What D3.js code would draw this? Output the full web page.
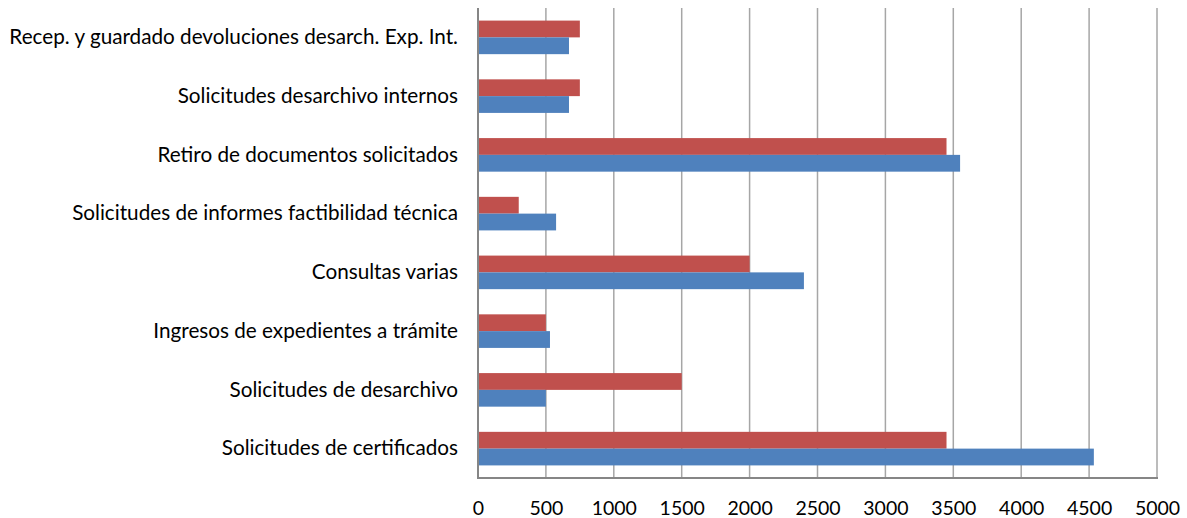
<!DOCTYPE html>
<html>
<head>
<meta charset="utf-8">
<script src="https://cdn.jsdelivr.net/npm/d3@7/dist/d3.min.js"></script>
<style>
  html, body { margin: 0; padding: 0; background: #fff; }
  svg text { font-family: Lato, "Open Sans", sans-serif; fill: #000; }
</style>
</head>
<body>
<svg id="chart" width="1187" height="518"></svg>
<script>
// Categories listed from top to bottom
const categories = [
  "Recep. y guardado devoluciones desarch. Exp. Int.",
  "Solicitudes desarchivo internos",
  "Retiro de documentos solicitados",
  "Solicitudes de informes factibilidad técnica",
  "Consultas varias",
  "Ingresos de expedientes a trámite",
  "Solicitudes de desarchivo",
  "Solicitudes de certificados"
];
// Upper bar of each pair (red) and lower bar (blue)
const seriesRed  = [750, 750, 3450, 300, 2000, 500, 1500, 3450];
const seriesBlue = [670, 670, 3550, 575, 2400, 530, 500, 4535];
const xTicks = [0, 500, 1000, 1500, 2000, 2500, 3000, 3500, 4000, 4500, 5000];

const svg = d3.select("#chart");
const margin = { left: 478, top: 8 };

const x = d3.scaleLinear().domain([0, 5000]).range([margin.left, 1157]);
const y = d3.scaleBand().domain(categories).range([margin.top, 478]).paddingInner(0).paddingOuter(0);
// Two bars per band with a gap of 150% of a bar width
const barH = y.bandwidth() / 3.5;
const inner = d3.scaleBand().domain(["red", "blue"]).range([0, barH * 2]);
const groupOffset = (y.bandwidth() - barH * 2) / 2;

// Vertical gridlines
svg.append("g").selectAll("line")
  .data(xTicks.slice(1))
  .join("line")
  .attr("x1", d => x(d)).attr("x2", d => x(d))
  .attr("y1", y.range()[0]).attr("y2", y.range()[1])
  .attr("stroke", "#a6a6a6").attr("stroke-width", 1.5);

// Bars
const groups = svg.append("g").selectAll("g")
  .data(categories.map((c, i) => ({ c, red: seriesRed[i], blue: seriesBlue[i] })))
  .join("g")
  .attr("transform", d => `translate(0,${y(d.c) + groupOffset})`);

groups.append("rect")
  .attr("x", x(0)).attr("y", inner("red"))
  .attr("width", d => x(d.red) - x(0)).attr("height", inner.bandwidth())
  .attr("fill", "#c0504d");

groups.append("rect")
  .attr("x", x(0)).attr("y", inner("blue"))
  .attr("width", d => x(d.blue) - x(0)).attr("height", inner.bandwidth())
  .attr("fill", "#4f81bd");

// Axis lines
svg.append("line")
  .attr("x1", x(0)).attr("x2", x(0))
  .attr("y1", y.range()[0]).attr("y2", y.range()[1])
  .attr("stroke", "#868686").attr("stroke-width", 2);
svg.append("line")
  .attr("x1", x(0) - 1).attr("x2", x(5000) + 1)
  .attr("y1", y.range()[1]).attr("y2", y.range()[1])
  .attr("stroke", "#868686").attr("stroke-width", 2);

// Category labels
const yAxis = d3.axisLeft(y).tickSize(0).tickPadding(20);
const gy = svg.append("g").attr("transform", `translate(${x(0)},0)`).call(yAxis);
gy.select(".domain").remove();
gy.selectAll("text").style("font-size", "20.7px").style("font-family", "Lato, 'Open Sans', sans-serif").attr("fill", "#111");

// Value axis labels
const xAxis = d3.axisBottom(x).tickValues(xTicks).tickSize(0).tickPadding(23).tickFormat(d3.format("d"));
const gx = svg.append("g").attr("transform", `translate(0,${y.range()[1]})`).call(xAxis);
gx.select(".domain").remove();
gx.selectAll("text").style("font-size", "19.5px").style("font-family", "Lato, 'Open Sans', sans-serif").attr("fill", "#111");
</script>
</body>
</html>
